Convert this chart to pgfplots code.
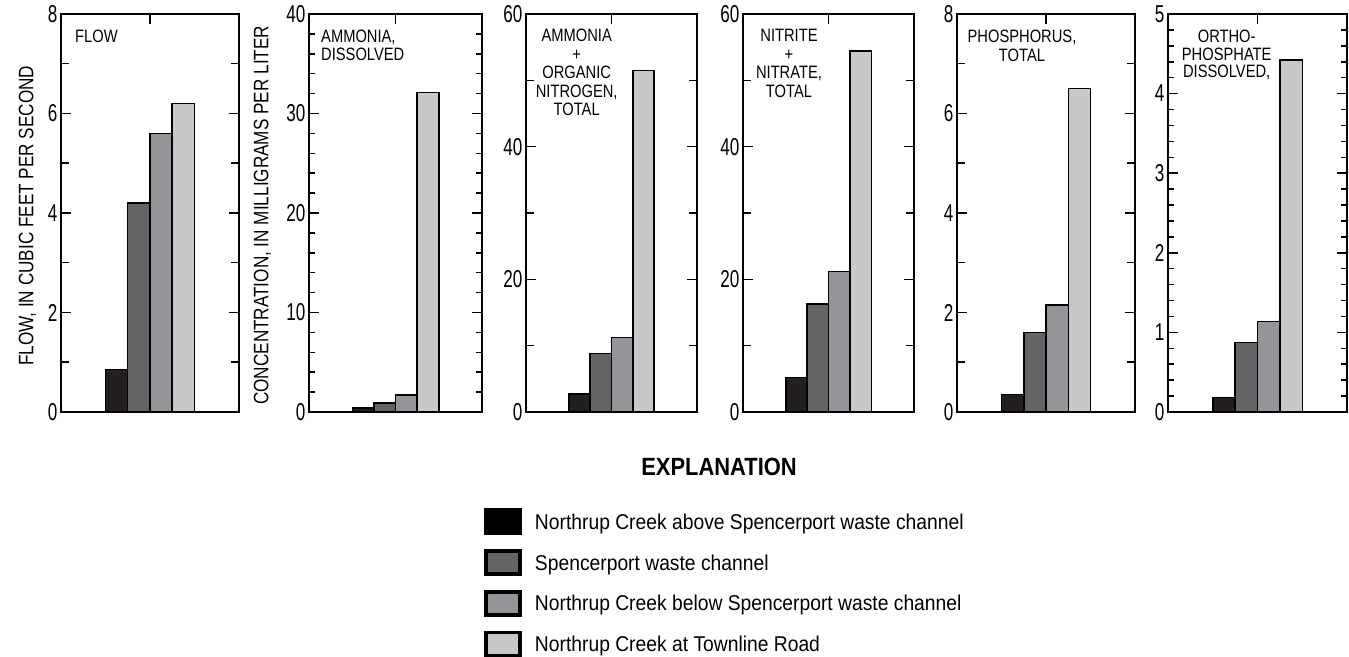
\documentclass[border=0pt]{standalone}
\usepackage{pgfplots}
\pgfplotsset{compat=1.18}
\usepackage{fontspec}
\setmainfont[FakeStretch=0.82]{Liberation Sans}
\newfontfamily\tickfont[FakeStretch=0.7]{Liberation Sans}
\newfontfamily\legfont[FakeStretch=0.9]{Liberation Sans}
\newfontfamily\expfont[FakeStretch=0.88]{Liberation Sans}
\definecolor{cA}{HTML}{231F20}
\definecolor{cB}{HTML}{636466}
\definecolor{cC}{HTML}{939598}
\definecolor{cD}{HTML}{C7C8CA}
\pgfplotsset{
  panel/.style={
    scale only axis, height=398bp, anchor=south west,
    xmin=-4, xmax=4, ymin=0,
    xtick={0}, xticklabels={}, xtick pos=both,
    ytick pos=both, yticklabel pos=left,
    tick align=inside,
    major tick length=10bp, minor tick length=8bp,
    axis line style={line width=1.6bp},
    every tick/.style={black, line width=1.5bp},
    yticklabel style={font=\tickfont\fontsize{24.5}{24.5}\selectfont},
    /pgf/number format/assume math mode=true,
  },
  bb/.style={ybar, bar width=1, bar shift=0pt, draw=black, line width=1.5bp, fill=#1},
}
\tikzset{ttl/.style={inner sep=0pt, font=\fontsize{18}{18.5}\selectfont}}
\begin{document}
\begin{tikzpicture}
\path[use as bounding box] (0,0) rectangle (1349bp,657bp);

% Panel 1: Flow
\begin{axis}[panel, at={(61bp,245bp)}, width=178bp, ymax=8,
  ytick={0,2,4,6,8}, minor ytick={1,3,5,7},
  ylabel={FLOW, IN CUBIC FEET PER SECOND},
  every axis y label/.style={at={(axis description cs:-0.1882,0.493)}, rotate=90, anchor=center, inner sep=0pt, font=\fontsize{21}{21}\selectfont}]
\addplot[bb=cA] coordinates {(-1.5,0.85)};
\addplot[bb=cB] coordinates {(-0.5,4.2)};
\addplot[bb=cC] coordinates {(0.5,5.6)};
\addplot[bb=cD] coordinates {(1.5,6.2)};
\node[ttl, anchor=north west, align=left, xshift=14bp, yshift=-16bp] at (rel axis cs:0,1) {FLOW};
\end{axis}

% Panel 2: Ammonia dissolved
\begin{axis}[panel, at={(309bp,245bp)}, width=173bp, ymax=40,
  ytick={0,10,20,30,40}, minor ytick={2,4,...,38}, minor tick length=6bp,
  ylabel={CONCENTRATION, IN MILLIGRAMS PER LITER},
  every axis y label/.style={at={(axis description cs:-0.2688,0.494)}, rotate=90, anchor=center, inner sep=0pt, font=\fontsize{21}{21}\selectfont}]
\addplot[bb=cA] coordinates {(-1.5,0.4)};
\addplot[bb=cB] coordinates {(-0.5,0.9)};
\addplot[bb=cC] coordinates {(0.5,1.7)};
\addplot[bb=cD] coordinates {(1.5,32.1)};
\node[ttl, anchor=north west, align=left, xshift=12bp, yshift=-16bp, font=\fontsize{18}{18.3}\selectfont] at (rel axis cs:0,1) {AMMONIA,\\DISSOLVED};
\end{axis}

% Panel 3: Ammonia + organic nitrogen
\begin{axis}[panel, at={(526bp,245bp)}, width=171bp, ymax=60,
  ytick={0,20,40,60}, minor ytick={10,30,50}]
\addplot[bb=cA] coordinates {(-1.5,2.7)};
\addplot[bb=cB] coordinates {(-0.5,8.8)};
\addplot[bb=cC] coordinates {(0.5,11.2)};
\addplot[bb=cD] coordinates {(1.5,51.5)};
\node[ttl, anchor=north, align=center, xshift=50.7bp, yshift=-15.2bp] at (rel axis cs:0,1) {AMMONIA\\+\\ORGANIC\\NITROGEN,\\TOTAL};
\end{axis}

% Panel 4: Nitrite + nitrate
\begin{axis}[panel, at={(743bp,245bp)}, width=171bp, ymax=60,
  ytick={0,20,40,60}, minor ytick={10,30,50}]
\addplot[bb=cA] coordinates {(-1.5,5.2)};
\addplot[bb=cB] coordinates {(-0.5,16.3)};
\addplot[bb=cC] coordinates {(0.5,21.2)};
\addplot[bb=cD] coordinates {(1.5,54.4)};
\node[ttl, anchor=north, align=center, xshift=46bp, yshift=-15.2bp] at (rel axis cs:0,1) {NITRITE\\+\\NITRATE,\\TOTAL};
\end{axis}

% Panel 5: Phosphorus total
\begin{axis}[panel, at={(957bp,245bp)}, width=178bp, ymax=8,
  ytick={0,2,4,6,8}, minor ytick={1,3,5,7}]
\addplot[bb=cA] coordinates {(-1.5,0.35)};
\addplot[bb=cB] coordinates {(-0.5,1.6)};
\addplot[bb=cC] coordinates {(0.5,2.15)};
\addplot[bb=cD] coordinates {(1.5,6.5)};
\node[ttl, anchor=north, align=center, xshift=65bp, yshift=-15.5bp, font=\fontsize{18}{19}\selectfont] at (rel axis cs:0,1) {PHOSPHORUS,\\TOTAL};
\end{axis}

% Panel 6: Orthophosphate dissolved
\begin{axis}[panel, at={(1168bp,245bp)}, width=179bp, ymax=5,
  ytick={0,1,2,3,4,5}, minor ytick={0.2,0.4,...,4.81}, minor tick length=6bp]
\addplot[bb=cA] coordinates {(-1.5,0.18)};
\addplot[bb=cB] coordinates {(-0.5,0.87)};
\addplot[bb=cC] coordinates {(0.5,1.14)};
\addplot[bb=cD] coordinates {(1.5,4.42)};
\node[ttl, anchor=north, align=center, xshift=58.7bp, yshift=-16bp, font=\fontsize{18}{17.5}\selectfont] at (rel axis cs:0,1) {ORTHO-\\PHOSPHATE\\DISSOLVED,};
\end{axis}

% Explanation (legend)
\begin{axis}[at={(0bp,0bp)}, anchor=south west, scale only axis, width=1349bp, height=657bp,
  xmin=0, xmax=1349, ymin=0, ymax=657, hide axis,
  legend cell align=left,
  legend image code/.code={\draw[#1, draw=black, line width=3.5bp] (0bp,-11.5bp) rectangle (34bp,11.5bp);},
  legend style={at={(0.3590,0.2267)}, anchor=north west, draw=none, fill=none, inner sep=0pt,
    row sep=14.4bp, column sep=13bp,
    font=\legfont\fontsize{21.5}{21.5}\selectfont,
    nodes={inner sep=0pt, text height=17.3bp, text depth=2bp}}]
\addlegendimage{fill=black}
\addlegendentry{Northrup Creek above Spencerport waste channel}
\addlegendimage{fill=cB}
\addlegendentry{Spencerport waste channel}
\addlegendimage{fill=cC}
\addlegendentry{Northrup Creek below Spencerport waste channel}
\addlegendimage{fill=cD}
\addlegendentry{Northrup Creek at Townline Road}
\node[font=\expfont\bfseries\fontsize{25}{25}\selectfont] at (axis cs:719,190.3) {EXPLANATION};
\end{axis}
\end{tikzpicture}
\end{document}
